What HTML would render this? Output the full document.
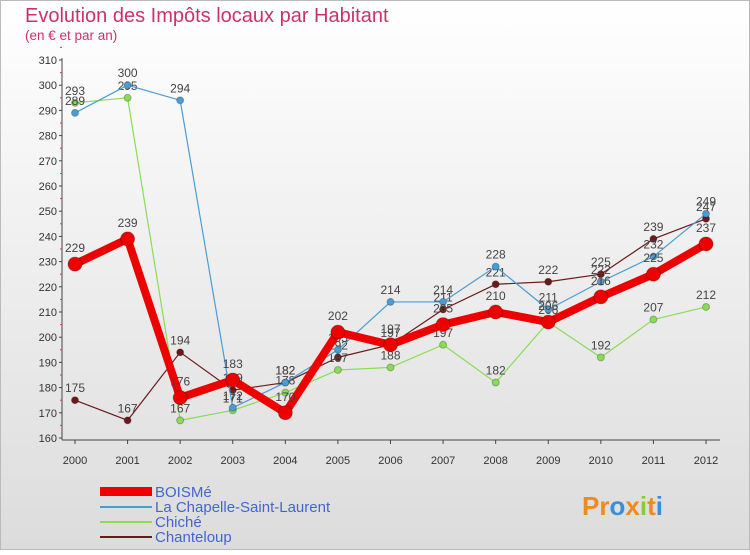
<!DOCTYPE html>
<html><head><meta charset="utf-8"><style>
body{margin:0;width:750px;height:550px;overflow:hidden;font-family:"Liberation Sans",sans-serif}
</style></head><body>
<svg width="750" height="550" xmlns="http://www.w3.org/2000/svg">
<defs><linearGradient id="bg" x1="0" y1="0" x2="0" y2="1"><stop offset="0" stop-color="#ffffff"/><stop offset="1" stop-color="#dcdcdc"/></linearGradient></defs>
<rect x="0.5" y="0.5" width="749" height="549" fill="url(#bg)" stroke="#bbb"/>
<text x="25" y="22" font-size="20" fill="#c8336e">Evolution des Impôts locaux par Habitant</text>
<text x="25" y="40" font-size="13.5" fill="#c8336e">(en € et par an)</text>
<g id="axes"></g><g id="series"></g>
<g font-size="15">
<rect x="100" y="487" width="52" height="9" fill="#ee0000"/>
<text x="155" y="497" fill="#4466cc">BOISMé</text>
<line x1="100" y1="507" x2="152" y2="507" stroke="#4b9cd3" stroke-width="2"/>
<text x="155" y="512" fill="#4466cc">La Chapelle-Saint-Laurent</text>
<line x1="100" y1="522" x2="152" y2="522" stroke="#88dd55" stroke-width="2"/>
<text x="155" y="527" fill="#4466cc">Chiché</text>
<line x1="100" y1="537" x2="152" y2="537" stroke="#6b1a1a" stroke-width="2"/>
<text x="155" y="542" fill="#4466cc">Chanteloup</text>
</g>
<text x="582" y="515" font-size="26" font-weight="bold" fill="#f08a1c">Pr<tspan fill="#3a8fd8">o</tspan>x<tspan fill="#8c3">i</tspan>t<tspan fill="#3a8fd8">i</tspan></text>
</svg>
<script>
const years=["2000","2001","2002","2003","2004","2005","2006","2007","2008","2009","2010","2011","2012"];
const yTicks=[160,170,180,190,200,210,220,230,240,250,260,270,280,290,300,310];
const boisme=[229,239,176,183,170,202,197,205,210,206,216,225,237];
const chapelle=[289,300,294,172,182,195,214,214,228,211,222,232,249];
const chiche=[293,295,167,171,178,187,188,197,182,206,192,207,212];
const chanteloup=[175,167,194,179,182,192,197,211,221,222,225,239,247];
const NS="http://www.w3.org/2000/svg";
const xS=i=>75+i*(706-75)/12;
const yS=v=>438-(v-160)*(438-60)/150;
function mk(t,a,p){const e=document.createElementNS(NS,t);for(const k in a)e.setAttribute(k,a[k]);p.appendChild(e);return e;}
const ax=document.getElementById('axes');
const yl=mk('line',{x1:62,y1:58,x2:62,y2:440,stroke:'#444'},ax);


const xl=mk('line',{x1:62,y1:440,x2:720,y2:440,stroke:'#444'},ax);


yTicks.forEach(v=>{
 const t=mk('text',{x:57,y:yS(v)+4,'font-size':11,'text-anchor':'end',fill:'#333'},ax);t.textContent=v;
 
 
 mk('line',{x1:59,y1:yS(v),x2:62,y2:yS(v),stroke:'#444'},ax);
 mk('line',{x1:60,y1:yS(v+5),x2:62,y2:yS(v+5),stroke:'#e33'},ax);
});
years.forEach((y,i)=>{
 const t=mk('text',{x:xS(i),y:464,'font-size':11,'text-anchor':'middle',fill:'#333'},ax);t.textContent=y;
 
 
 mk('line',{x1:xS(i),y1:440,x2:xS(i),y2:444,stroke:'#444'},ax);
});
const sg=document.getElementById('series');
function draw(vals,col,w,r,name,dy){
 const g=mk('g',{},sg);
 
 
 const pl=mk('polyline',{points:vals.map((v,i)=>xS(i)+','+yS(v)).join(' '),fill:'none',stroke:col,'stroke-width':w,'stroke-linejoin':'round'},g);
 
 
 vals.forEach((v,i)=>{
  const c=mk('circle',{cx:xS(i),cy:yS(v),r:r,fill:col,stroke:'rgba(0,0,0,0.25)'},g);
  
  
  const t=mk('text',{x:xS(i),y:yS(v)-dy,'font-size':12,'text-anchor':'middle',fill:'#444'},g);t.textContent=v;
  
  
 });
}
draw(chanteloup,'#6b1a1a',1.2,3.5,'chanteloup',8);
draw(chiche,'#88dd55',1.2,3.5,'chiche',8);
draw(chapelle,'#4b9cd3',1.2,3.5,'chapelle',8);
draw(boisme,'#ee0000',8,7,'boisme',12);
</script>
</body></html>
